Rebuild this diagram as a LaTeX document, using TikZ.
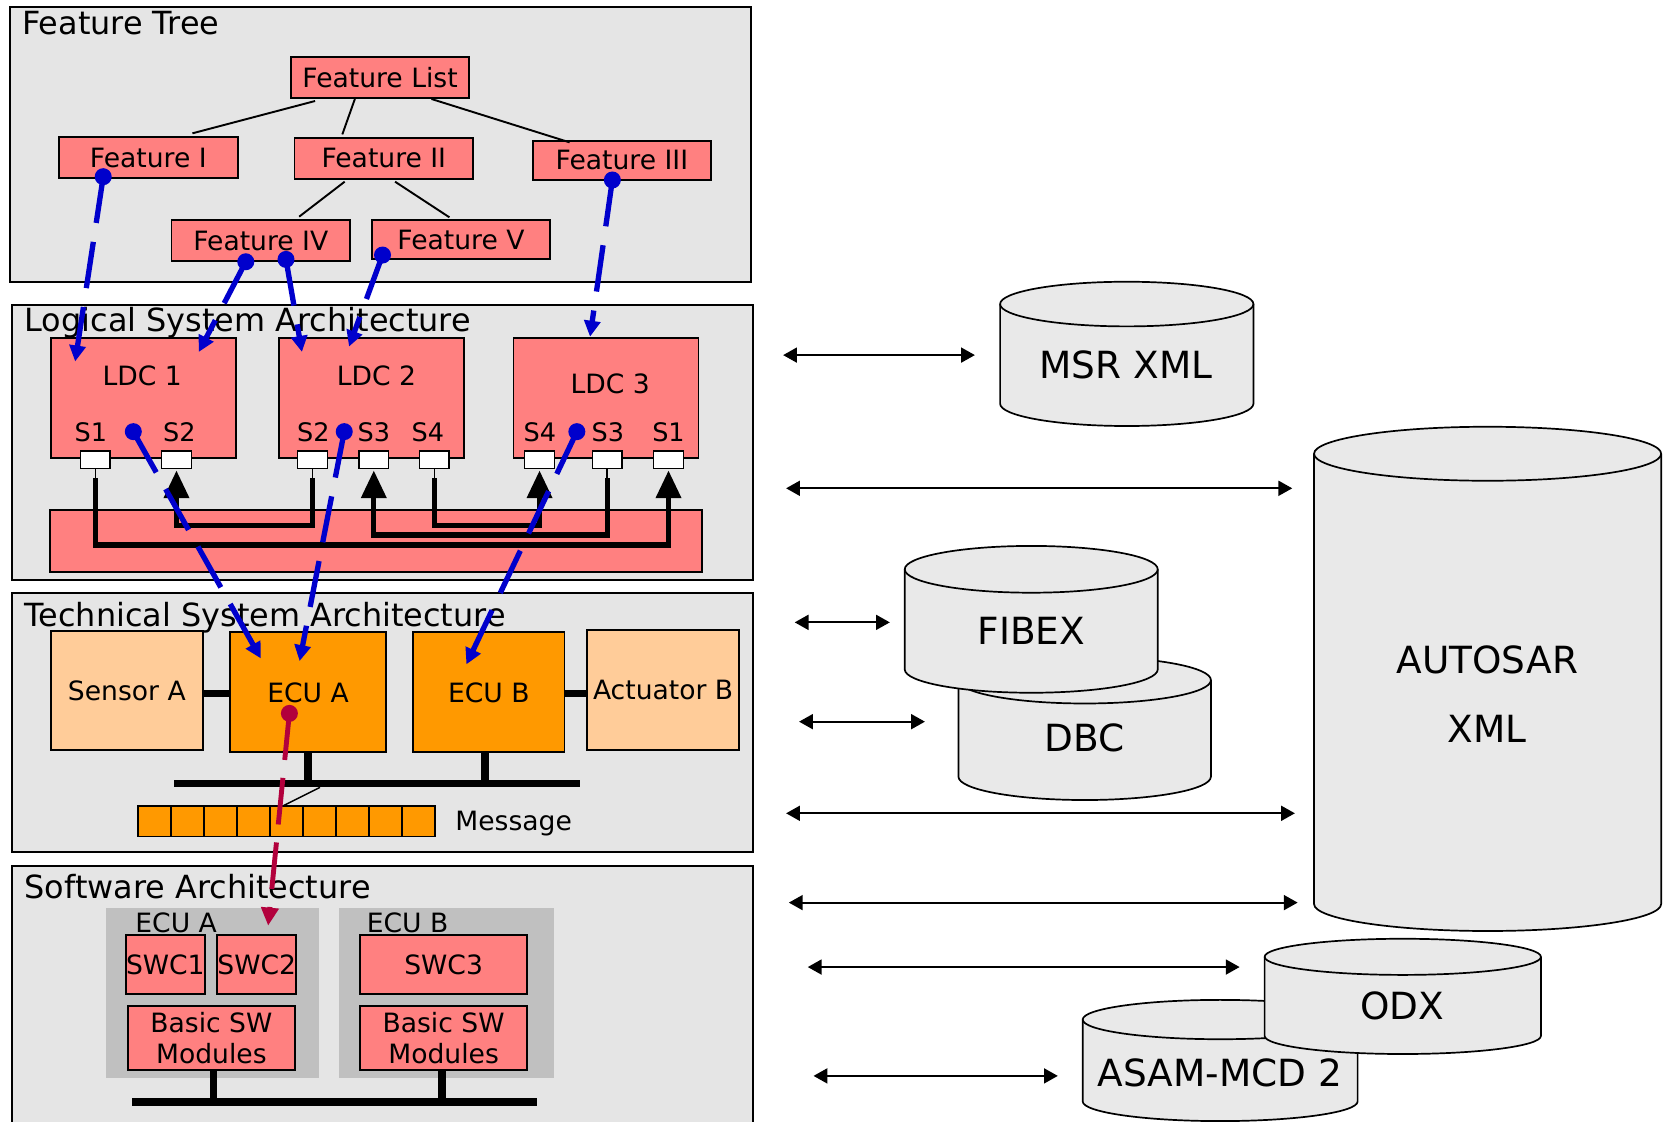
\documentclass[tikz,border=0pt]{standalone}
\usepackage{fontspec}
\setmainfont{DejaVu Sans}
\usetikzlibrary{arrows.meta,calc}
\definecolor{pinkbox}{RGB}{255,128,128}
\definecolor{orangebox}{RGB}{255,153,0}
\definecolor{peachbox}{RGB}{255,204,153}
\definecolor{panelgray}{RGB}{229,229,229}
\definecolor{groupgray}{RGB}{192,192,192}
\definecolor{cylgray}{RGB}{233,233,233}
\definecolor{linkblue}{RGB}{0,0,204}
\definecolor{linkred}{RGB}{178,0,60}
\newcommand\drawcyl[5]{%
  \pgfmathsetmacro\cylrx{(#2-#1)/4}%
  \pgfmathsetmacro\cylry{#5/2}%
  \filldraw[cyl] (#1,#3) -- (#1,#4) arc[start angle=180,end angle=360,x radius=\cylrx pt,y radius=\cylry pt] -- (#2,#3) arc[start angle=0,end angle=180,x radius=\cylrx pt,y radius=\cylry pt] -- cycle;
  \draw[cyl,fill=none] (#1,#3) arc[start angle=180,end angle=360,x radius=\cylrx pt,y radius=\cylry pt];}
\begin{document}
\begin{tikzpicture}[x=0.5pt,y=-0.5pt,
  panel/.style={draw,line width=1pt,fill=panelgray,inner sep=0},
  ttl/.style={anchor=base west,inner sep=0,font=\fontsize{15}{18}\selectfont},
  box/.style={draw,line width=0.9pt,inner sep=0,align=center,font=\fontsize{12.5}{15}\selectfont},
  pinkb/.style={box,fill=pinkbox},
  feat/.style={pinkb,minimum width=84pt,minimum height=19.5pt},
  ldc/.style={pinkb,minimum width=87pt,minimum height=56.5pt},
  port/.style={draw,line width=0.7pt,fill=white,inner sep=0,minimum width=14pt,minimum height=8.25pt},
  lbl/.style={inner sep=0,font=\fontsize{12.5}{15}\selectfont},
  plbl/.style={inner sep=0,font=\fontsize{12}{14}\selectfont},
  tree/.style={line width=0.9pt},
  thickl/.style={line width=2.5pt,-{Triangle[length=13pt,width=11.5pt]}},
  thinl/.style={line width=0.7pt},
  hw/.style={line width=3.5pt},
  cell/.style={draw,line width=0.7pt,fill=orangebox,inner sep=0,minimum width=15.5pt,minimum height=14.4pt},
  grp/.style={fill=groupgray,inner sep=0},
  cyl/.style={draw,line width=0.8pt,fill=cylgray},
  cyltxt/.style={inner sep=0,align=center,font=\fontsize{17.6}{32.5}\selectfont},
  dbl/.style={line width=1pt,{Triangle[length=6.5pt,width=7pt]}-{Triangle[length=6.5pt,width=7pt]}},
  bdot/.style={circle,fill=linkblue,inner sep=0,minimum size=8pt},
  rdot/.style={circle,fill=linkred,inner sep=0,minimum size=8pt},
  blink/.style={draw=linkblue,line width=2.5pt,dash pattern=on 22pt off 9pt,-{Triangle[length=7.5pt,width=7.5pt]}},
  rlink/.style={draw=linkred,line width=2.3pt,dash pattern=on 22pt off 8.5pt,-{Triangle[length=8.5pt,width=8pt]}}
]
\useasboundingbox (0,0) rectangle (1568,1055);
\clip (0,0) rectangle (1568,1055);
\fill[white] (0,0) rectangle (1568,1055);

% ---------------- Feature Tree ----------------
\node[panel,minimum width=348.5pt,minimum height=129.3pt] (ft) at (357.5,135.6) {};
\node[ttl] (ftt) at (20.5,32.3) {Feature Tree};
\node[feat] (fl) at (357.5,73) {Feature List};
\node[feat] (f1) at (139.5,148.2) {Feature I};
\node[feat] (f2) at (361,149) {Feature II};
\node[feat,minimum height=18.3pt] (f3) at (585,150.7) {Feature III};
\node[feat] (f4) at (245.3,226.4) {Feature IV};
\node[feat,minimum height=18.3pt] (f5) at (433.6,225.3) {Feature V};
\coordinate (ta1) at (296.4,95);   \coordinate (tb1) at (181,125.4);
\coordinate (ta2) at (333.8,93.1); \coordinate (tb2) at (322,126.4);
\coordinate (ta3) at (405.8,93.1); \coordinate (tb3) at (535.8,133.9);
\coordinate (ta4) at (324.2,170.9); \coordinate (tb4) at (281.4,203.8);
\coordinate (ta5) at (371.6,170.9); \coordinate (tb5) at (422.7,204.4);
\draw[tree] (ta1) -- (tb1);
\draw[tree] (ta2) -- (tb2);
\draw[tree] (ta3) -- (tb3);
\draw[tree] (ta4) -- (tb4);
\draw[tree] (ta5) -- (tb5);

% ---------------- Logical System Architecture ----------------
\node[panel,minimum width=348.4pt,minimum height=129.35pt] (lsa) at (359.8,416.25) {};
\node[ttl] (lsat) at (22.8,312) {Logical System Architecture};
\node[ldc] (ldc1) at (135,374.65) {};
\node[ldc] (ldc2) at (349.75,374.65) {};
\node[ldc] (ldc3) at (570,374.65) {};
\node[lbl] (l1) at (133.8,353.6) {LDC 1};
\node[lbl] (l2) at (354,353.6) {LDC 2};
\node[lbl] (l3) at (574,361.3) {LDC 3};
\node[plbl] (s11) at (85.5,406.8) {S1};
\node[plbl] (s12) at (168.7,406.8) {S2};
\node[plbl] (s22) at (294.8,406.8) {S2};
\node[plbl] (s23) at (351.6,406.8) {S3};
\node[plbl] (s24) at (402.4,406.8) {S4};
\node[plbl] (s34) at (507.8,406.8) {S4};
\node[plbl] (s33) at (571.8,406.8) {S3};
\node[plbl] (s31) at (628.8,406.8) {S1};
\node[pinkb,minimum width=306.5pt,minimum height=29pt] (lbus) at (353.5,509) {};
\node[port] (p11) at (89.6,432.25) {};
\node[port] (p12) at (166,432.25) {};
\node[port] (p22) at (294,432.25) {};
\node[port] (p23) at (351.6,432.25) {};
\node[port] (p24) at (408.5,432.25) {};
\node[port] (p34) at (507.5,432.25) {};
\node[port] (p33) at (571.1,432.25) {};
\node[port] (p31) at (628.8,432.25) {};
\coordinate (jy) at (0,450);
\coordinate (tipy) at (0,442.5);
\coordinate (ya) at (0,494);
\coordinate (yb) at (0,503.3);
\coordinate (yc) at (0,512.7);
\draw[thinl] (p11.south) -- (p11 |- jy);
\draw[thinl] (p22.south) -- (p22 |- jy);
\draw[thinl] (p24.south) -- (p24 |- jy);
\draw[thinl] (p33.south) -- (p33 |- jy);
\draw[thickl] (p11 |- jy) -- (p11 |- yc) -- (p31 |- yc) -- (p31 |- tipy);
\draw[thickl] (p22 |- jy) -- (p22 |- ya) -- (p12 |- ya) -- (p12 |- tipy);
\draw[thickl] (p33 |- jy) -- (p33 |- yb) -- (p23 |- yb) -- (p23 |- tipy);
\draw[thickl] (p24 |- jy) -- (p24 |- ya) -- (p34 |- ya) -- (p34 |- tipy);

% ---------------- Technical System Architecture ----------------
\node[panel,minimum width=348.3pt,minimum height=121.5pt] (tsa) at (359.7,679.5) {};
\node[ttl] (tsat) at (22.8,589.5) {Technical System Architecture};
\node[box,fill=peachbox,minimum width=71.3pt,minimum height=56.15pt] (sensA) at (119.3,649.35) {Sensor A};
\node[box,fill=orangebox,minimum width=73.7pt,minimum height=56.45pt] (ecuA) at (289.7,651.25) {ECU A};
\node[box,fill=orangebox,minimum width=71.25pt,minimum height=56.45pt] (ecuB) at (459.75,651.25) {ECU B};
\node[box,fill=peachbox,minimum width=71.7pt,minimum height=56.3pt] (actB) at (623.7,648.9) {Actuator B};
\coordinate (hy) at (0,652.5);
\draw[hw] (sensA.east |- hy) -- (ecuA.west |- hy);
\draw[hw] (ecuB.east |- hy) -- (actB.west |- hy);
\coordinate (busL) at (164,737.2);
\coordinate (busR) at (545.4,737.2);
\draw[hw] (busL) -- (busR);
\draw[hw] (ecuA.south) -- (ecuA.south |- busL);
\coordinate (ecuBdrop) at (456.2,707.7);
\draw[hw] (ecuBdrop) -- (ecuBdrop |- busL);
\foreach \i in {1,...,9} {\node[cell] (m\i) at ({130+31*\i-15.5},772.6) {};}
\coordinate (msgtap) at (301,740.6);
\coordinate (msgend) at (265.8,758.2);
\draw[thinl] (msgtap) -- (msgend);
\node[lbl,anchor=base west] (msg) at (428,781) {Message};

% ---------------- Software Architecture ----------------
\node[panel,minimum width=348.3pt,minimum height=127.7pt] (swa) at (359.7,942.3) {};
\node[ttl] (swat) at (22.8,845) {Software Architecture};
\node[grp,minimum width=99.85pt,minimum height=79.95pt] (grpA) at (199.75,933.75) {};
\node[grp,minimum width=101pt,minimum height=79.95pt] (grpB) at (419.7,933.75) {};
\node[lbl] (gA) at (165.7,868) {ECU A};
\node[lbl] (gB) at (383.4,868) {ECU B};
\node[pinkb,minimum width=35.5pt,minimum height=27.75pt] (swc1) at (155.5,907.55) {SWC1};
\node[pinkb,minimum width=36.25pt,minimum height=27.75pt] (swc2) at (241.45,907.55) {SWC2};
\node[pinkb,minimum width=78.85pt,minimum height=27.75pt] (swc3) at (417.25,907.55) {SWC3};
\node[pinkb,minimum width=78.85pt,minimum height=30.1pt] (bswA) at (198.85,976.4) {Basic SW\\Modules};
\node[pinkb,minimum width=78.85pt,minimum height=30.1pt] (bswB) at (417.25,976.4) {Basic SW\\Modules};
\coordinate (sbL) at (124.5,1036.3);
\coordinate (sbR) at (504.8,1036.3);
\draw[line width=3.75pt] (sbL) -- (sbR);
\draw[hw] ($(bswA.south)+(1.75,0)$) -- ($(bswA.south |- sbL)+(1.75,0)$);
\draw[hw] ($(bswB.south)+(-1.35,0)$) -- ($(bswB.south |- sbL)+(-1.35,0)$);

% ---------------- Exchange formats ----------------
\drawcyl{940.7}{1179}{286}{379.7}{21}
\node[cyltxt] (msr) at (1059,343.4) {MSR XML};
\drawcyl{1236}{1562.5}{426.8}{850.3}{25.4}
\node[cyltxt] (autosar) at (1399,653.25) {AUTOSAR\\XML};
\drawcyl{901.5}{1139}{639.7}{730.5}{22}
\node[cyltxt] (dbc) at (1020,693.8) {DBC};
\drawcyl{851}{1089}{535.5}{629.6}{22}
\node[cyltxt] (fibex) at (970,593.3) {FIBEX};
\drawcyl{1018.4}{1277}{959}{1036}{18.5}
\node[cyltxt] (asam) at (1147.5,1009) {ASAM-MCD 2};
\drawcyl{1189.5}{1449.4}{900}{974.4}{17}
\node[cyltxt] (odx) at (1319,946) {ODX};

\coordinate (a1l) at (736.6,334);   \coordinate (a1r) at (917,334);
\coordinate (a2l) at (739.4,459.3); \coordinate (a2r) at (1215.5,459.3);
\coordinate (a3l) at (747.5,585.4); \coordinate (a3r) at (837,585.4);
\coordinate (a4l) at (751.6,678.8); \coordinate (a4r) at (870,678.8);
\coordinate (a5l) at (739.4,765);   \coordinate (a5r) at (1218,765);
\coordinate (a6l) at (742,849);     \coordinate (a6r) at (1220.6,849);
\coordinate (a7l) at (759.8,909.6); \coordinate (a7r) at (1166,909.6);
\coordinate (a8l) at (765.2,1012);  \coordinate (a8r) at (995,1012);
\foreach \k in {1,...,8} {\draw[dbl] (a\k l) -- (a\k r);}

% ---------------- Trace links ----------------
\node[bdot] (d1) at (97.1,166.2) {};
\node[bdot] (d2) at (231.2,246.2) {};
\node[bdot] (d3) at (269,244) {};
\node[bdot] (d4) at (359.8,239.9) {};
\node[bdot] (d5) at (576,169.3) {};
\node[bdot] (d6) at (125.4,406) {};
\node[bdot] (d7) at (323.8,406) {};
\node[bdot] (d8) at (542.6,406) {};
\node[rdot] (dr) at (272.2,671) {};
\coordinate (e1) at (70.7,340);
\coordinate (e2) at (187,331);
\coordinate (e3) at (284,331);
\coordinate (e4) at (328.3,326);
\coordinate (e5) at (555,316.7);
\coordinate (e6) at (245.3,619.3);
\coordinate (e7) at (281.8,621.8);
\coordinate (e8) at (438.7,624.9);
\coordinate (er) at (252.2,870.7);
\foreach \k in {1,...,8} {\draw[blink] (d\k.center) -- (e\k);}
\draw[rlink] (dr.center) -- (er);
\end{tikzpicture}
\end{document}
